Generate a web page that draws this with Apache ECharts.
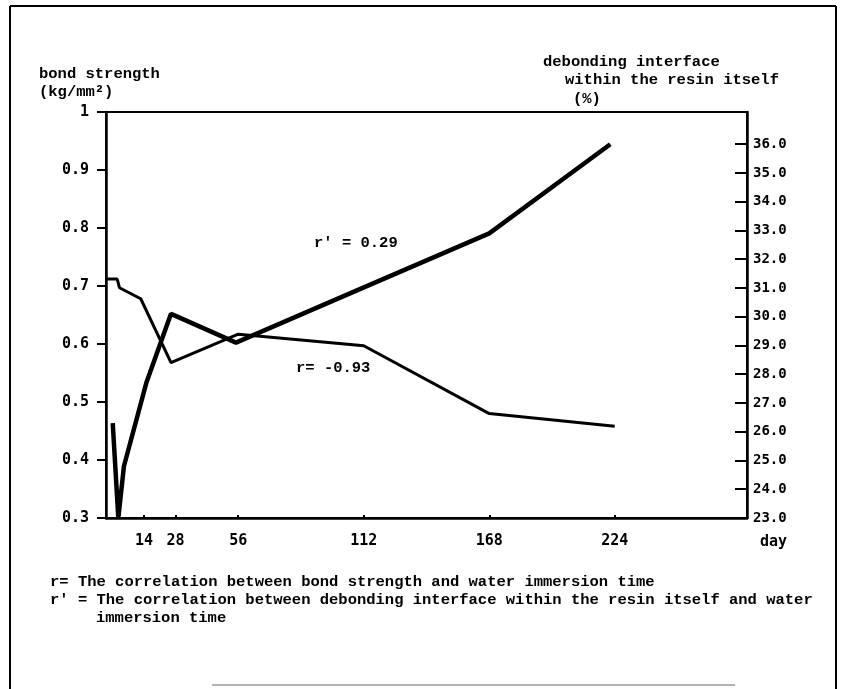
<!DOCTYPE html>
<html>
<head>
<meta charset="utf-8">
<script src="https://cdn.jsdelivr.net/npm/echarts@6/dist/echarts.min.js"></script>
<style>
html,body{margin:0;padding:0;background:#fff;}
#chart{width:843px;height:689px;}
</style>
</head>
<body>
<div id="chart"></div>
<script>
// ---- data ----
const dayTicks = [14, 28, 56, 112, 168, 224];
const rightTicks = [23, 24, 25, 26, 27, 28, 29, 30, 31, 32, 33, 34, 35, 36];

// bond strength (kg/mm2), thin line, left axis
const bondDays = [-2.5, 2, 3, 12.5, 26, 56, 112, 168, 224];
const bondStrength = [0.712, 0.712, 0.697, 0.678, 0.568, 0.617, 0.597, 0.480, 0.458];

// debonding interface within the resin itself (%), thick line, right axis
const debondDays = [0, 2.5, 5, 15, 26, 55, 110, 168, 222];
const debondPct = [26.3, 23.0, 24.8, 27.7, 30.1, 29.1, 30.95, 32.9, 36.0];

const numFam = "'DejaVu Sans Mono', 'Liberation Mono', monospace";
const txtFam = "'Liberation Mono', 'DejaVu Sans Mono', monospace";
const TS = 15.5;

const chart = echarts.init(document.getElementById('chart'), null, {renderer: 'canvas'});

const txt = (text, left, cy, size, fam) => {
  const s = size || TS;
  return {
    type: 'text', left: left, top: cy - s / 2,
    style: {text: text, fill: '#000', font: 'bold ' + s + 'px ' + (fam || txtFam)}
  };
};

const option = {
  animation: false,
  backgroundColor: '#fff',
  grid: {left: 106, right: 96, top: 112, bottom: 171, show: true, borderColor: '#000', borderWidth: 2, backgroundColor: 'transparent'},
  xAxis: {
    type: 'value', min: -3, max: 283,
    splitLine: {show: false},
    axisLine: {lineStyle: {color: '#000', width: 2.5}},
    axisTick: {customValues: dayTicks, length: 3, inside: true, lineStyle: {color: '#000', width: 2}},
    axisLabel: {customValues: dayTicks, margin: 16, color: '#000', fontSize: 15, fontWeight: 'bold', fontFamily: numFam}
  },
  yAxis: [
    {
      type: 'value', min: 0.3, max: 1, interval: 0.1, position: 'left',
      splitLine: {show: false},
      axisLine: {show: true, onZero: false, lineStyle: {color: '#000', width: 2.5}},
      axisTick: {show: true, length: 9, lineStyle: {color: '#000', width: 2}},
      axisLabel: {margin: 17, color: '#000', fontSize: 15, fontWeight: 'bold', fontFamily: numFam,
        formatter: v => (Math.abs(v - 1) < 1e-6 ? '1' : v.toFixed(1))}
    },
    {
      type: 'value', min: 23, max: 37.12, position: 'right',
      splitLine: {show: false},
      axisLine: {show: true, onZero: false, lineStyle: {color: '#000', width: 2.5}},
      axisTick: {show: true, inside: true, length: 12, customValues: rightTicks, lineStyle: {color: '#000', width: 2}},
      axisLabel: {customValues: rightTicks, margin: 6, color: '#000', fontSize: 14, fontWeight: 'bold', fontFamily: numFam,
        formatter: v => v.toFixed(1)}
    }
  ],
  series: [
    {
      name: 'bond strength', type: 'line', yAxisIndex: 0, symbol: 'none',
      data: bondDays.map((d, i) => [d, bondStrength[i]]),
      lineStyle: {color: '#000', width: 3}
    },
    {
      name: 'debonding interface', type: 'line', yAxisIndex: 1, symbol: 'none',
      data: debondDays.map((d, i) => [d, debondPct[i]]),
      lineStyle: {color: '#000', width: 4.5}
    }
  ],
  graphic: [
    // outer frame
    {type: 'line', shape: {x1: 10, y1: 6, x2: 836, y2: 6}, style: {stroke: '#000', lineWidth: 2}},
    {type: 'line', shape: {x1: 10, y1: 6, x2: 10, y2: 689}, style: {stroke: '#000', lineWidth: 2}},
    {type: 'line', shape: {x1: 836, y1: 6, x2: 836, y2: 689}, style: {stroke: '#000', lineWidth: 2}},
    {type: 'line', shape: {x1: 212, y1: 685, x2: 735, y2: 685}, style: {stroke: '#999', lineWidth: 1.5}},
    // axis titles
    txt('bond strength', 39, 74),
    txt('(kg/mm\u00B2)', 39, 92),
    txt('debonding interface', 543, 62),
    txt('within the resin itself', 565, 80),
    txt('(%)', 573, 99),
    txt('day', 760, 542, 15, numFam),
    // correlation labels
    txt("r' = 0.29", 314, 243),
    txt('r= -0.93', 296, 368),
    // footnotes
    txt('r= The correlation between bond strength and water immersion time', 50, 582),
    txt("r' = The correlation between debonding interface within the resin itself and water", 50, 600),
    txt('immersion time', 96, 618)
  ]
};
chart.setOption(option);
</script>
</body>
</html>
